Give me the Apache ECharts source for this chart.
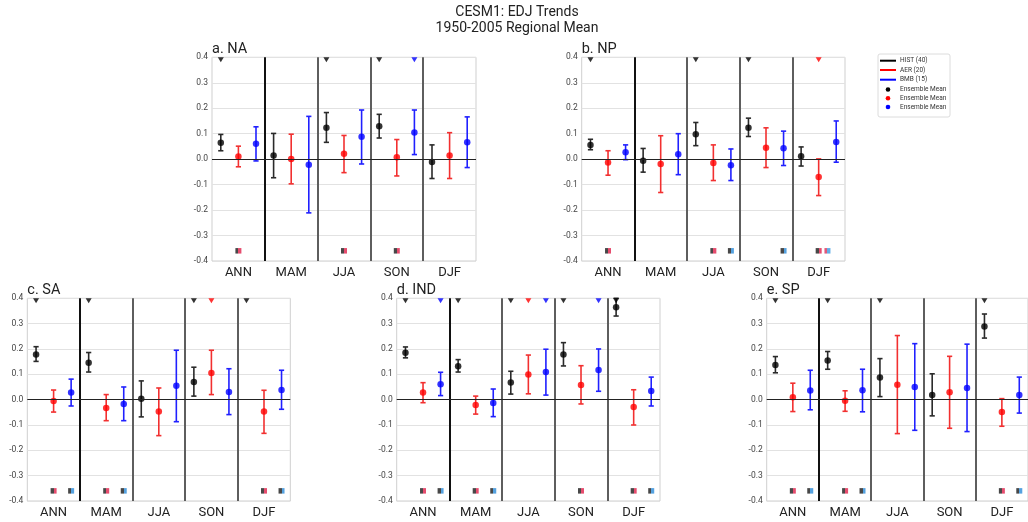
<!DOCTYPE html>
<html>
<head>
<meta charset="utf-8">
<script src="https://cdn.jsdelivr.net/npm/echarts@6/dist/echarts.min.js"></script>
<style>html,body{margin:0;padding:0;background:#fff}#c{width:1028px;height:522px}</style>
</head>
<body>
<div id="c"></div>
<script>
// ---------------- DATA ----------------
const SEASONS = ['ANN', 'MAM', 'JJA', 'SON', 'DJF'];
const EXPERIMENTS = ['HIST (40)', 'AER (20)', 'BMB (15)'];
const Y_MIN = -0.4, Y_MAX = 0.4, Y_STEP = 0.1;
const TRI_Y = 0.39;      // significance triangle level
const SQ_Y = -0.36;      // difference-significance square level

// [ensemble mean, lower bound, upper bound] for each season
const NA_HIST = [[0.064, 0.033, 0.097], [0.014, -0.073, 0.101], [0.123, 0.066, 0.183], [0.129, 0.083, 0.176], [-0.011, -0.076, 0.056]];
const NA_AER  = [[0.010, -0.030, 0.051], [0.001, -0.097, 0.098], [0.021, -0.053, 0.093], [0.007, -0.066, 0.077], [0.014, -0.076, 0.104]];
const NA_BMB  = [[0.060, -0.007, 0.127], [-0.022, -0.211, 0.168], [0.088, -0.019, 0.193], [0.105, 0.018, 0.193], [0.066, -0.033, 0.166]];

const NP_HIST = [[0.056, 0.037, 0.078], [-0.006, -0.051, 0.042], [0.098, 0.053, 0.144], [0.123, 0.089, 0.161], [0.011, -0.027, 0.048]];
const NP_AER  = [[-0.013, -0.063, 0.033], [-0.019, -0.131, 0.092], [-0.015, -0.084, 0.056], [0.045, -0.033, 0.123], [-0.070, -0.143, 0.001]];
const NP_BMB  = [[0.027, -0.002, 0.056], [0.019, -0.061, 0.100], [-0.024, -0.084, 0.040], [0.043, -0.025, 0.110], [0.067, -0.012, 0.150]];

const SA_HIST = [[0.178, 0.151, 0.209], [0.146, 0.109, 0.186], [0.004, -0.068, 0.074], [0.070, 0.014, 0.128], null];
const SA_AER  = [[-0.005, -0.049, 0.038], [-0.033, -0.083, 0.020], [-0.047, -0.142, 0.046], [0.105, 0.020, 0.195], [-0.047, -0.133, 0.037]];
const SA_BMB  = [[0.028, -0.025, 0.081], [-0.017, -0.083, 0.050], [0.055, -0.087, 0.195], [0.030, -0.059, 0.122], [0.038, -0.038, 0.116]];

const IND_HIST = [[0.185, 0.165, 0.208], [0.132, 0.109, 0.158], [0.068, 0.022, 0.112], [0.178, 0.133, 0.225], [0.365, 0.330, 0.400]];
const IND_AER  = [[0.028, -0.012, 0.067], [-0.021, -0.057, 0.014], [0.099, 0.023, 0.176], [0.058, -0.017, 0.134], [-0.029, -0.100, 0.039]];
const IND_BMB  = [[0.061, 0.016, 0.108], [-0.013, -0.067, 0.042], [0.109, 0.018, 0.199], [0.117, 0.033, 0.200], [0.034, -0.025, 0.089]];

const SP_HIST = [[0.137, 0.106, 0.170], [0.155, 0.120, 0.190], [0.087, 0.012, 0.162], [0.018, -0.064, 0.102], [0.289, 0.243, 0.338]];
const SP_AER  = [[0.009, -0.047, 0.065], [-0.004, -0.046, 0.035], [0.059, -0.134, 0.253], [0.029, -0.113, 0.171], [-0.049, -0.105, 0.004]];
const SP_BMB  = [[0.036, -0.040, 0.116], [0.037, -0.048, 0.120], [0.050, -0.121, 0.221], [0.046, -0.126, 0.219], [0.018, -0.053, 0.089]];

// significant trends: [season index, experiment index (0 HIST, 1 AER, 2 BMB)]
const NA_TRI  = [[0, 0], [2, 0], [3, 0], [3, 2]];
const NP_TRI  = [[0, 0], [2, 0], [3, 0], [4, 1]];
const SA_TRI  = [[0, 0], [1, 0], [3, 0], [3, 1], [4, 0]];
const IND_TRI = [[0, 0], [0, 2], [1, 0], [2, 0], [2, 1], [2, 2], [3, 0], [3, 2], [4, 0]];
const SP_TRI  = [[0, 0], [1, 0], [2, 0], [4, 0]];

// significant differences: [season index, pair (0 HIST-AER, 1 HIST-BMB, 2 AER-BMB)]
const NA_SQ  = [[0, 0], [2, 0], [3, 0]];
const NP_SQ  = [[0, 0], [2, 0], [2, 1], [3, 1], [4, 0], [4, 2]];
const SA_SQ  = [[0, 0], [0, 1], [1, 0], [1, 1], [4, 0], [4, 1]];
const IND_SQ = [[0, 0], [0, 1], [1, 0], [1, 1], [3, 0], [4, 0], [4, 1]];
const SP_SQ  = [[0, 0], [0, 1], [1, 0], [1, 1], [4, 0], [4, 1]];

// ---------------- LAYOUT / STYLE ----------------
const FONT = 'Roboto, "DejaVu Sans", sans-serif';
const DOT_COLORS = ['#000000', '#ff0000', '#0000ff'];
const BAR_COLORS = ['#2a2a2a', '#f23030', '#2020ff'];
const PAIR_COLORS = [['#1a1a1a', '#e0204a'], ['#1a1a1a', '#2a8ad8'], ['#d8305a', '#3a9ae0']];

const PANELS = [
  { title: 'a. NA',  sets: [NA_HIST, NA_AER, NA_BMB],    tri: NA_TRI,  sq: NA_SQ,  left: 212,   top: 57.3,  width: 264,   height: 203.7 },
  { title: 'b. NP',  sets: [NP_HIST, NP_AER, NP_BMB],    tri: NP_TRI,  sq: NP_SQ,  left: 581.7, top: 57.3,  width: 263.3, height: 203.7 },
  { title: 'c. SA',  sets: [SA_HIST, SA_AER, SA_BMB],    tri: SA_TRI,  sq: SA_SQ,  left: 27.3,  top: 298.3, width: 263,   height: 202.7 },
  { title: 'd. IND', sets: [IND_HIST, IND_AER, IND_BMB], tri: IND_TRI, sq: IND_SQ, left: 396.7, top: 298.3, width: 263.3, height: 202.7 },
  { title: 'e. SP',  sets: [SP_HIST, SP_AER, SP_BMB],    tri: SP_TRI,  sq: SP_SQ,  left: 766.7, top: 298.3, width: 263.3, height: 202.7 }
];

const NSLOT = SEASONS.length * 3;
const pairPos = [1.5, 2.5, 2.0];

const twoTone = (a, b) => ({ type: 'linear', x: 0, y: 0, x2: 1, y2: 0,
  colorStops: [{ offset: 0, color: a }, { offset: 0.5, color: a }, { offset: 0.5, color: b }, { offset: 1, color: b }] });

const grid = [], xAxis = [], yAxis = [], series = [], graphic = [];

PANELS.forEach((p, gi) => {
  grid.push({ left: p.left, top: p.top, width: p.width, height: p.height, show: true,
              borderColor: '#cfcfcf', borderWidth: 1, backgroundColor: 'transparent', containLabel: false });
  xAxis.push({ gridIndex: gi, type: 'value', min: 0, max: NSLOT, show: true,
               axisLine: { show: false }, axisTick: { show: false }, axisLabel: { show: false }, splitLine: { show: false } });
  xAxis.push({ gridIndex: gi, type: 'category', data: SEASONS, boundaryGap: true, position: 'bottom',
               axisLine: { show: false }, axisTick: { show: false }, splitLine: { show: false },
               axisLabel: { show: true, fontSize: 13, color: '#222', fontFamily: FONT, margin: 5 } });
  yAxis.push({ gridIndex: gi, type: 'value', min: Y_MIN, max: Y_MAX, interval: Y_STEP,
               axisLine: { show: false }, axisTick: { show: false },
               splitLine: { show: true, lineStyle: { color: '#e2e2e2', width: 1 } },
               axisLabel: { fontSize: 8.5, color: '#444', fontFamily: FONT, margin: 4,
                            formatter: v => (Math.abs(v) < 1e-9 ? '0.0' : v.toFixed(1)) } });
  const xi = gi * 2;

  const sepLines = [];
  for (let s = 1; s < SEASONS.length; s++) {
    sepLines.push({ xAxis: s * 3, lineStyle: { color: s === 1 ? '#111' : '#5e5e5e', width: 2, type: 'solid' } });
  }
  sepLines.push({ yAxis: 0, lineStyle: { color: '#222', width: 1, type: 'solid' } });
  series.push({ type: 'scatter', xAxisIndex: xi, yAxisIndex: gi, data: [], silent: true,
                markLine: { silent: true, symbol: 'none', label: { show: false }, animation: false, data: sepLines } });

  p.sets.forEach((set, ei) => {
    const bars = [], dots = [];
    set.forEach((v, si) => {
      if (!v) return;
      const x = si * 3 + ei + 0.5;
      bars.push([x, v[1], v[2]]);
      dots.push([x, v[0]]);
    });
    series.push({
      type: 'custom', xAxisIndex: xi, yAxisIndex: gi, data: bars, silent: true, z: 3,
      encode: { x: 0, y: [1, 2] },
      renderItem: (params, api) => {
        const x = api.value(0);
        const lo = api.coord([x, api.value(1)]);
        const hi = api.coord([x, api.value(2)]);
        const hw = 2.6;
        const st = { stroke: BAR_COLORS[ei], lineWidth: 1.6 };
        return { type: 'group', children: [
          { type: 'line', shape: { x1: lo[0], y1: lo[1], x2: hi[0], y2: hi[1] }, style: st },
          { type: 'line', shape: { x1: lo[0] - hw, y1: lo[1], x2: lo[0] + hw, y2: lo[1] }, style: st },
          { type: 'line', shape: { x1: hi[0] - hw, y1: hi[1], x2: hi[0] + hw, y2: hi[1] }, style: st }
        ] };
      }
    });
    series.push({ type: 'scatter', xAxisIndex: xi, yAxisIndex: gi, data: dots, symbol: 'circle', symbolSize: 6.5,
                  itemStyle: { color: DOT_COLORS[ei] }, z: 4, silent: true });
    const tris = p.tri.filter(t => t[1] === ei).map(t => [t[0] * 3 + ei + 0.5, TRI_Y]);
    series.push({ type: 'scatter', xAxisIndex: xi, yAxisIndex: gi, data: tris, symbol: 'triangle', symbolRotate: 180,
                  symbolSize: [6, 5], itemStyle: { color: DOT_COLORS[ei] }, z: 4, silent: true });
  });

  [0, 1, 2].forEach(pi => {
    const pts = p.sq.filter(q => q[1] === pi).map(q => [q[0] * 3 + pairPos[pi], SQ_Y]);
    series.push({ type: 'scatter', xAxisIndex: xi, yAxisIndex: gi, data: pts, symbol: 'rect', symbolSize: [6, 5.5],
                  itemStyle: { color: twoTone(PAIR_COLORS[pi][0], PAIR_COLORS[pi][1]) }, z: 4, silent: true });
  });

  graphic.push({ type: 'text', left: p.left, top: p.top - 15.5,
                 style: { text: p.title, fontSize: 14.5, fill: '#222', fontFamily: FONT } });
});

graphic.push({ type: 'text', x: 517, y: 5, style: { text: 'CESM1: EDJ Trends', fontSize: 14, fill: '#222', fontFamily: FONT, textAlign: 'center' } });
graphic.push({ type: 'text', x: 517, y: 21, style: { text: '1950-2005 Regional Mean', fontSize: 14, fill: '#222', fontFamily: FONT, textAlign: 'center' } });

const LEG_X = 878, LEG_Y = 54, ROW_Y = [60.7, 70, 79.7, 89.5, 98.2, 107];
graphic.push({ type: 'rect', shape: { x: LEG_X, y: LEG_Y, width: 72, height: 63, r: 2 },
               style: { fill: '#fff', stroke: '#dcdcdc', lineWidth: 1 } });
EXPERIMENTS.forEach((name, i) => {
  graphic.push({ type: 'line', shape: { x1: 880, y1: ROW_Y[i], x2: 896, y2: ROW_Y[i] }, style: { stroke: DOT_COLORS[i], lineWidth: 2 } });
  graphic.push({ type: 'text', x: 900, y: ROW_Y[i], style: { text: name, fontSize: 6.5, fill: '#333', fontFamily: FONT, textVerticalAlign: 'middle' } });
});
DOT_COLORS.forEach((c, i) => {
  graphic.push({ type: 'circle', shape: { cx: 888, cy: ROW_Y[3 + i], r: 2.3 }, style: { fill: c } });
  graphic.push({ type: 'text', x: 900, y: ROW_Y[3 + i], style: { text: 'Ensemble Mean', fontSize: 6.5, fill: '#333', fontFamily: FONT, textVerticalAlign: 'middle' } });
});

const chart = echarts.init(document.getElementById('c'), null, { renderer: 'canvas' });
chart.setOption({ animation: false, backgroundColor: '#fff', grid, xAxis, yAxis, series, graphic });
</script>
</body>
</html>
